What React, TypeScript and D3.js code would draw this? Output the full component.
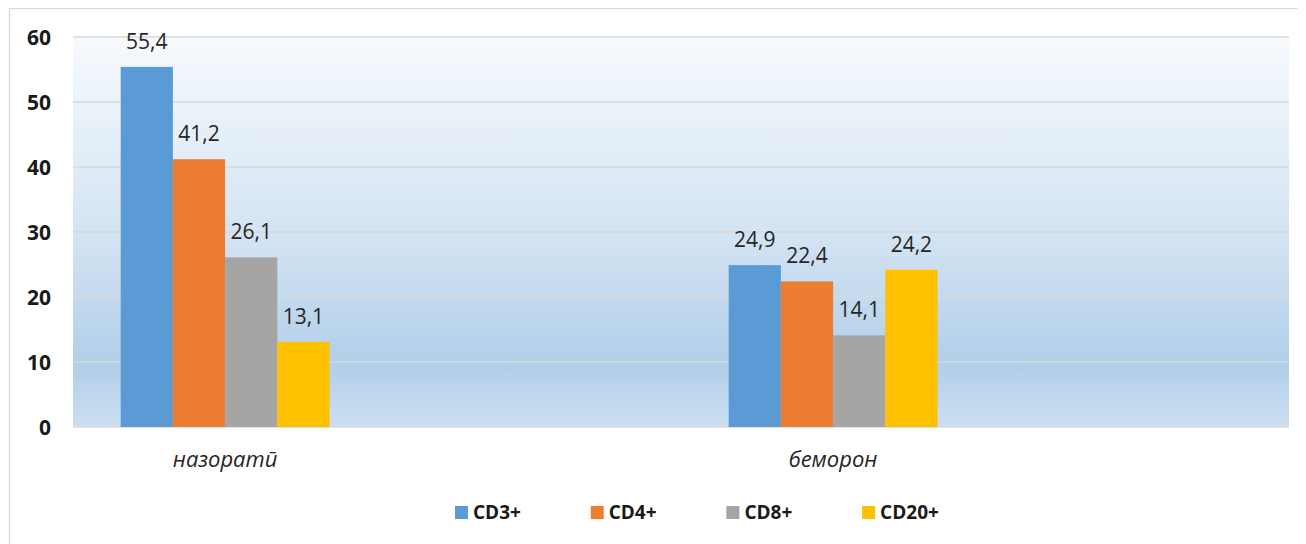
import * as d3 from 'd3';

const categories = ['назоратӣ', 'беморон'];
const seriesNames = ['CD3+', 'CD4+', 'CD8+', 'CD20+'];
const seriesColors = ['#5b9bd5', '#ed7d31', '#a5a5a5', '#ffc000'];
const cd3 = [55.4, 24.9];
const cd4 = [41.2, 22.4];
const cd8 = [26.1, 14.1];
const cd20 = [13.1, 24.2];
const yTicks = [0, 10, 20, 30, 40, 50, 60];

const seriesValues = [cd3, cd4, cd8, cd20];

const W = 1298;
const H = 536;
const plot = { left: 65, right: 1281, top: 29, bottom: 419 };
const groupPad = 47.7;
const barW = 52.2;
const font = '"Open Sans", "Noto Sans", sans-serif';

const fmt = (v: number) => v.toFixed(1).replace('.', ',');

export default function App() {
  const y = d3.scaleLinear().domain([0, 60]).range([plot.bottom, plot.top]);
  const x0 = d3.scaleBand().domain(categories).range([plot.left, plot.right]);
  const x1 = d3.scaleBand().domain(seriesNames).range([groupPad, groupPad + barW * seriesNames.length]);
  const groupCenter = (c: string) => (x0(c) as number) + groupPad + (barW * seriesNames.length) / 2;

  return (
    <svg width={W} height={H} style={{ display: 'block' }}>
      <defs>
        <linearGradient id="plotbg" x1="0" y1="0" x2="0" y2="1">
          <stop offset="0" stopColor="#f7fafd" />
          <stop offset="0.5" stopColor="#d4e4f3" />
          <stop offset="0.84" stopColor="#b1cfea" />
          <stop offset="1" stopColor="#cbdff0" />
        </linearGradient>
      </defs>
      {/* chart border */}
      <rect x={1.5} y={0.5} width={W + 20} height={H + 20} fill="#fff" stroke="#d9d9d9" strokeWidth={1.3} />

      {/* plot area */}
      <rect x={plot.left} y={plot.top} width={plot.right - plot.left} height={plot.bottom - plot.top} fill="url(#plotbg)" />

      {yTicks.map((t) => (
        <g key={t}>
          <line x1={plot.left} x2={plot.right} y1={y(t)} y2={y(t)} stroke="#d9d9d9" strokeWidth={1.5} />
          <text x={43} y={y(t)} dy="0.36em" textAnchor="end" fontFamily={font} fontWeight={700} fontSize={21} fill="#1a1a1a">
            {t}
          </text>
        </g>
      ))}

      {categories.map((c, ci) => (
        <g key={c} transform={`translate(${x0(c)},0)`}>
          {seriesNames.map((s, si) => {
            const v = seriesValues[si][ci];
            const bx = x1(s) as number;
            return (
              <g key={s}>
                <rect x={bx} y={y(v)} width={x1.bandwidth()} height={y(0) - y(v)} fill={seriesColors[si]} />
                <text x={bx + x1.bandwidth() / 2} y={y(v) - 18} textAnchor="middle" fontFamily={font} fontSize={21} fill="#262626">
                  {fmt(v)}
                </text>
              </g>
            );
          })}
        </g>
      ))}

      {categories.map((c) => (
        <text key={c} x={groupCenter(c)} y={459} textAnchor="middle" fontFamily={font} fontStyle="italic" fontSize={22} fill="#262626">
          {c}
        </text>
      ))}

      {/* legend */}
      {seriesNames.map((s, i) => (
        <g key={s} transform={`translate(${447 + i * 135.7},498)`}>
          <rect x={0} y={0} width={13} height={13} fill={seriesColors[i]} />
          <text x={18} y={6.5} dy="0.36em" fontFamily={font} fontWeight={700} fontSize={19} fill="#1a1a1a">
            {s}
          </text>
        </g>
      ))}
    </svg>
  );
}
